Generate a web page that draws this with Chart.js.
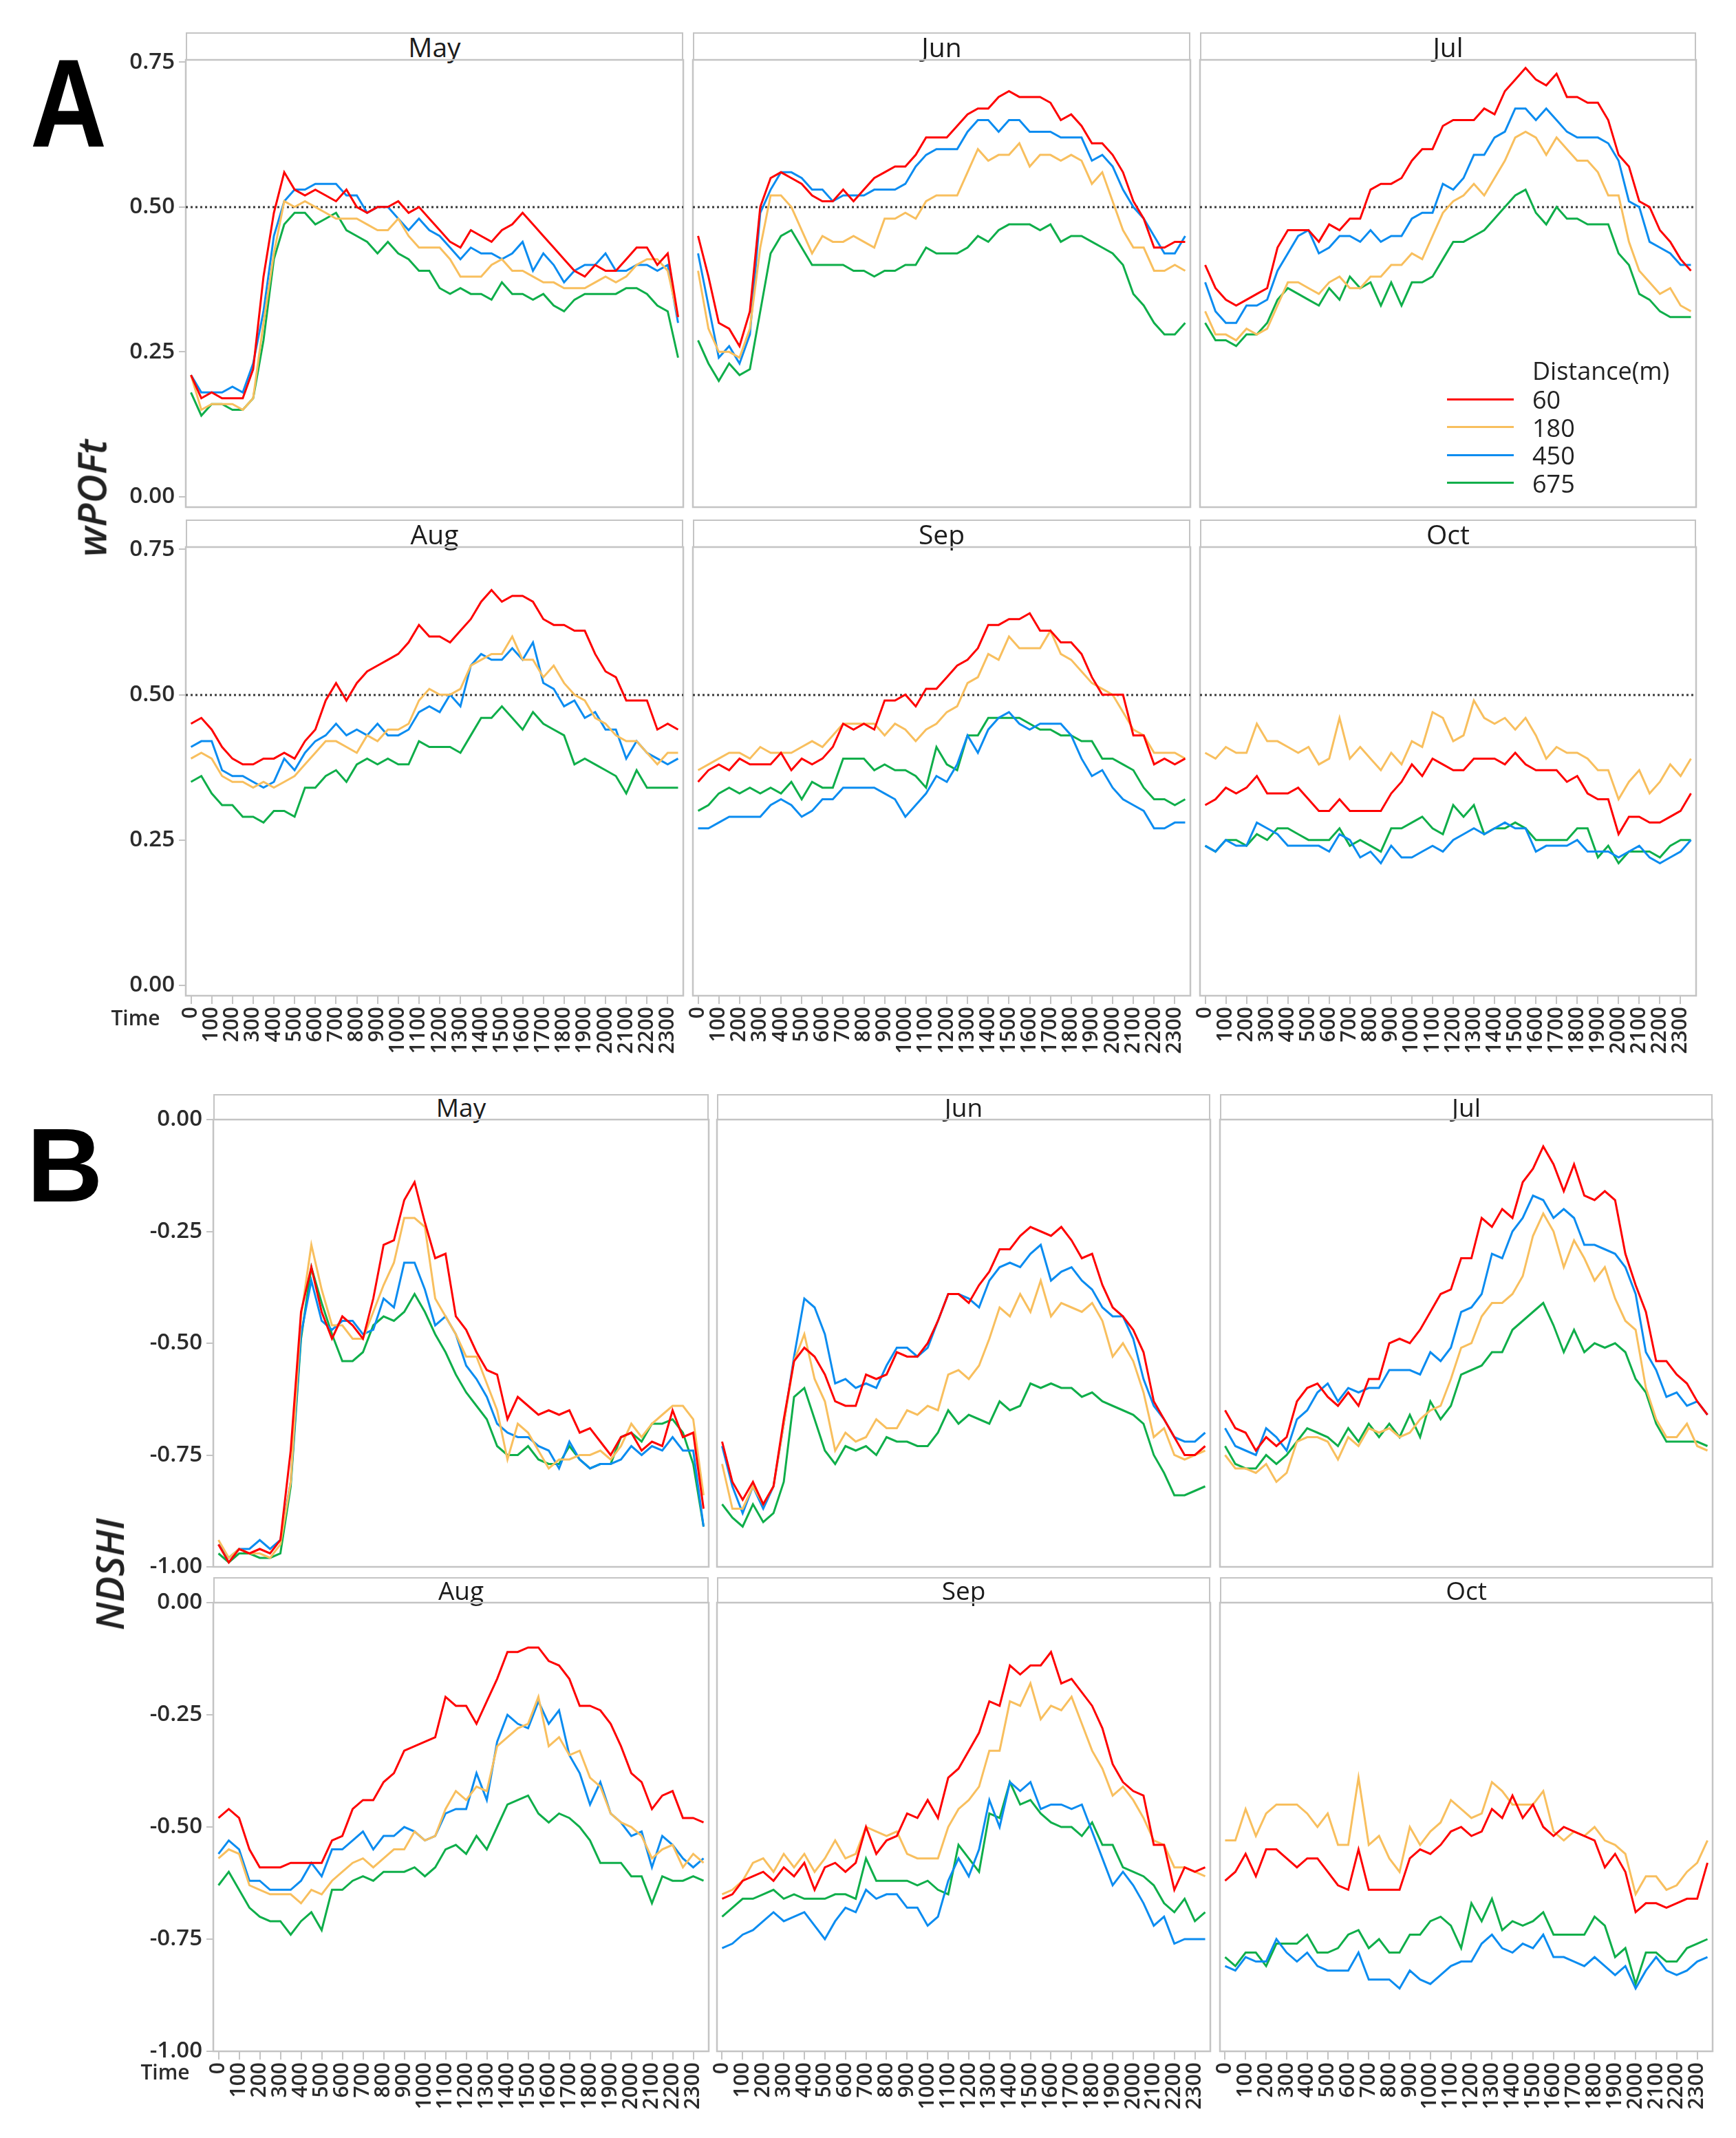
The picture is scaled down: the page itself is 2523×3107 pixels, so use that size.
<!DOCTYPE html>
<html>
<head>
<meta charset="utf-8">
<title>wPOFt / NDSHI diurnal profiles</title>
<script src="https://cdn.jsdelivr.net/npm/chart.js@4.4.1/dist/chart.umd.min.js"></script>
<style>
  html, body { margin: 0; padding: 0; background: #fff; }
  body { position: relative; width: 2523px; height: 3107px; overflow: hidden;
         font-family: "Open Sans", "Noto Sans", sans-serif; color: #262626; }
  canvas { position: absolute; }
  .strip { position: absolute; box-sizing: border-box; border: 2px solid #c4c4c4; background: #fff; }
  .strip span { position: absolute; left: 0; right: 0; text-align: center; line-height: 1; color: #1c1c1c; }
  .lbl { position: absolute; white-space: nowrap; line-height: 1; }
</style>
</head>
<body>
<script>
// half-hour slots of the day
const times = ['0','30','100','130','200','230','300','330','400','430','500','530',
  '600','630','700','730','800','830','900','930','1000','1030','1100','1130',
  '1200','1230','1300','1330','1400','1430','1500','1530','1600','1630','1700','1730',
  '1800','1830','1900','1930','2000','2030','2100','2130','2200','2230','2300','2330'];
const months = ['May', 'Jun', 'Jul', 'Aug', 'Sep', 'Oct'];
const distances = ['60', '180', '450', '675'];
const lineColors = ['#fe0000', '#f8bf5e', '#0b8cf0', '#0fae4a'];
const wTicks = [0, 0.25, 0.5, 0.75];
const nTicks = [-1, -0.75, -0.5, -0.25, 0];
const wThreshold = 0.5;

// ---------- wPOFt (A) ----------
const wMay60  = [0.21,0.17,0.18,0.17,0.17,0.17,0.22,0.38,0.49,0.56,0.53,0.52,0.53,0.52,0.51,0.53,0.50,0.49,0.50,0.50,0.51,0.49,0.50,0.48,0.46,0.44,0.43,0.46,0.45,0.44,0.46,0.47,0.49,0.47,0.45,0.43,0.41,0.39,0.38,0.40,0.39,0.39,0.41,0.43,0.43,0.40,0.42,0.31];
const wMay180 = [0.21,0.15,0.16,0.16,0.16,0.15,0.17,0.30,0.42,0.51,0.50,0.51,0.50,0.49,0.48,0.48,0.48,0.47,0.46,0.46,0.48,0.45,0.43,0.43,0.43,0.41,0.38,0.38,0.38,0.40,0.41,0.39,0.39,0.38,0.37,0.37,0.36,0.36,0.36,0.37,0.38,0.37,0.38,0.40,0.41,0.41,0.39,0.31];
const wMay450 = [0.21,0.18,0.18,0.18,0.19,0.18,0.23,0.32,0.45,0.51,0.53,0.53,0.54,0.54,0.54,0.52,0.52,0.49,0.50,0.50,0.48,0.46,0.48,0.46,0.45,0.43,0.41,0.43,0.42,0.42,0.41,0.42,0.44,0.39,0.42,0.40,0.37,0.39,0.40,0.40,0.42,0.39,0.39,0.40,0.40,0.39,0.40,0.30];
const wMay675 = [0.18,0.14,0.16,0.16,0.15,0.15,0.17,0.27,0.41,0.47,0.49,0.49,0.47,0.48,0.49,0.46,0.45,0.44,0.42,0.44,0.42,0.41,0.39,0.39,0.36,0.35,0.36,0.35,0.35,0.34,0.37,0.35,0.35,0.34,0.35,0.33,0.32,0.34,0.35,0.35,0.35,0.35,0.36,0.36,0.35,0.33,0.32,0.24];

const wJun60  = [0.45,0.38,0.30,0.29,0.26,0.32,0.50,0.55,0.56,0.55,0.54,0.52,0.51,0.51,0.53,0.51,0.53,0.55,0.56,0.57,0.57,0.59,0.62,0.62,0.62,0.64,0.66,0.67,0.67,0.69,0.70,0.69,0.69,0.69,0.68,0.65,0.66,0.64,0.61,0.61,0.59,0.56,0.51,0.48,0.43,0.43,0.44,0.44];
const wJun180 = [0.39,0.29,0.25,0.25,0.24,0.29,0.43,0.52,0.52,0.50,0.46,0.42,0.45,0.44,0.44,0.45,0.44,0.43,0.48,0.48,0.49,0.48,0.51,0.52,0.52,0.52,0.56,0.60,0.58,0.59,0.59,0.61,0.57,0.59,0.59,0.58,0.59,0.58,0.54,0.56,0.51,0.46,0.43,0.43,0.39,0.39,0.40,0.39];
const wJun450 = [0.42,0.33,0.24,0.26,0.23,0.28,0.49,0.53,0.56,0.56,0.55,0.53,0.53,0.51,0.52,0.52,0.52,0.53,0.53,0.53,0.54,0.57,0.59,0.60,0.60,0.60,0.63,0.65,0.65,0.63,0.65,0.65,0.63,0.63,0.63,0.62,0.62,0.62,0.58,0.59,0.57,0.53,0.50,0.48,0.45,0.42,0.42,0.45];
const wJun675 = [0.27,0.23,0.20,0.23,0.21,0.22,0.32,0.42,0.45,0.46,0.43,0.40,0.40,0.40,0.40,0.39,0.39,0.38,0.39,0.39,0.40,0.40,0.43,0.42,0.42,0.42,0.43,0.45,0.44,0.46,0.47,0.47,0.47,0.46,0.47,0.44,0.45,0.45,0.44,0.43,0.42,0.40,0.35,0.33,0.30,0.28,0.28,0.30];

const wJul60  = [0.40,0.36,0.34,0.33,0.34,0.35,0.36,0.43,0.46,0.46,0.46,0.44,0.47,0.46,0.48,0.48,0.53,0.54,0.54,0.55,0.58,0.60,0.60,0.64,0.65,0.65,0.65,0.67,0.66,0.70,0.72,0.74,0.72,0.71,0.73,0.69,0.69,0.68,0.68,0.65,0.59,0.57,0.51,0.50,0.46,0.44,0.41,0.39];
const wJul180 = [0.32,0.28,0.28,0.27,0.29,0.28,0.29,0.33,0.37,0.37,0.36,0.35,0.37,0.38,0.36,0.36,0.38,0.38,0.40,0.40,0.42,0.41,0.45,0.49,0.51,0.52,0.54,0.52,0.55,0.58,0.62,0.63,0.62,0.59,0.62,0.60,0.58,0.58,0.56,0.52,0.52,0.44,0.39,0.37,0.35,0.36,0.33,0.32];
const wJul450 = [0.37,0.32,0.30,0.30,0.33,0.33,0.34,0.39,0.42,0.45,0.46,0.42,0.43,0.45,0.45,0.44,0.46,0.44,0.45,0.45,0.48,0.49,0.49,0.54,0.53,0.55,0.59,0.59,0.62,0.63,0.67,0.67,0.65,0.67,0.65,0.63,0.62,0.62,0.62,0.61,0.58,0.51,0.50,0.44,0.43,0.42,0.40,0.40];
const wJul675 = [0.30,0.27,0.27,0.26,0.28,0.28,0.30,0.34,0.36,0.35,0.34,0.33,0.36,0.34,0.38,0.36,0.37,0.33,0.37,0.33,0.37,0.37,0.38,0.41,0.44,0.44,0.45,0.46,0.48,0.50,0.52,0.53,0.49,0.47,0.50,0.48,0.48,0.47,0.47,0.47,0.42,0.40,0.35,0.34,0.32,0.31,0.31,0.31];

const wAug60  = [0.45,0.46,0.44,0.41,0.39,0.38,0.38,0.39,0.39,0.40,0.39,0.42,0.44,0.49,0.52,0.49,0.52,0.54,0.55,0.56,0.57,0.59,0.62,0.60,0.60,0.59,0.61,0.63,0.66,0.68,0.66,0.67,0.67,0.66,0.63,0.62,0.62,0.61,0.61,0.57,0.54,0.53,0.49,0.49,0.49,0.44,0.45,0.44];
const wAug180 = [0.39,0.40,0.39,0.36,0.35,0.35,0.34,0.35,0.34,0.35,0.36,0.38,0.40,0.42,0.42,0.41,0.40,0.43,0.42,0.44,0.44,0.45,0.49,0.51,0.50,0.50,0.51,0.55,0.56,0.57,0.57,0.60,0.56,0.56,0.53,0.55,0.52,0.50,0.49,0.46,0.45,0.43,0.42,0.42,0.40,0.38,0.40,0.40];
const wAug450 = [0.41,0.42,0.42,0.37,0.36,0.36,0.35,0.34,0.35,0.39,0.37,0.40,0.42,0.43,0.45,0.43,0.44,0.43,0.45,0.43,0.43,0.44,0.47,0.48,0.47,0.50,0.48,0.55,0.57,0.56,0.56,0.58,0.56,0.59,0.52,0.51,0.48,0.49,0.46,0.47,0.44,0.44,0.39,0.42,0.40,0.39,0.38,0.39];
const wAug675 = [0.35,0.36,0.33,0.31,0.31,0.29,0.29,0.28,0.30,0.30,0.29,0.34,0.34,0.36,0.37,0.35,0.38,0.39,0.38,0.39,0.38,0.38,0.42,0.41,0.41,0.41,0.40,0.43,0.46,0.46,0.48,0.46,0.44,0.47,0.45,0.44,0.43,0.38,0.39,0.38,0.37,0.36,0.33,0.37,0.34,0.34,0.34,0.34];

const wSep60  = [0.35,0.37,0.38,0.37,0.39,0.38,0.38,0.38,0.40,0.37,0.39,0.38,0.39,0.41,0.45,0.44,0.45,0.44,0.49,0.49,0.50,0.48,0.51,0.51,0.53,0.55,0.56,0.58,0.62,0.62,0.63,0.63,0.64,0.61,0.61,0.59,0.59,0.57,0.53,0.50,0.50,0.50,0.43,0.43,0.38,0.39,0.38,0.39];
const wSep180 = [0.37,0.38,0.39,0.40,0.40,0.39,0.41,0.40,0.40,0.40,0.41,0.42,0.41,0.43,0.45,0.45,0.45,0.45,0.43,0.45,0.44,0.42,0.44,0.45,0.47,0.48,0.52,0.53,0.57,0.56,0.60,0.58,0.58,0.58,0.61,0.57,0.56,0.54,0.52,0.51,0.50,0.47,0.44,0.43,0.40,0.40,0.40,0.39];
const wSep450 = [0.27,0.27,0.28,0.29,0.29,0.29,0.29,0.31,0.32,0.31,0.29,0.30,0.32,0.32,0.34,0.34,0.34,0.34,0.33,0.32,0.29,0.31,0.33,0.36,0.35,0.38,0.43,0.40,0.44,0.46,0.47,0.45,0.44,0.45,0.45,0.45,0.43,0.39,0.36,0.37,0.34,0.32,0.31,0.30,0.27,0.27,0.28,0.28];
const wSep675 = [0.30,0.31,0.33,0.34,0.33,0.34,0.33,0.34,0.33,0.35,0.32,0.35,0.34,0.34,0.39,0.39,0.39,0.37,0.38,0.37,0.37,0.36,0.34,0.41,0.38,0.37,0.43,0.43,0.46,0.46,0.46,0.46,0.45,0.44,0.44,0.43,0.43,0.42,0.42,0.39,0.39,0.38,0.37,0.34,0.32,0.32,0.31,0.32];

const wOct60  = [0.31,0.32,0.34,0.33,0.34,0.36,0.33,0.33,0.33,0.34,0.32,0.30,0.30,0.32,0.30,0.30,0.30,0.30,0.33,0.35,0.38,0.36,0.39,0.38,0.37,0.37,0.39,0.39,0.39,0.38,0.40,0.38,0.37,0.37,0.37,0.35,0.36,0.33,0.32,0.32,0.26,0.29,0.29,0.28,0.28,0.29,0.30,0.33];
const wOct180 = [0.40,0.39,0.41,0.40,0.40,0.45,0.42,0.42,0.41,0.40,0.41,0.38,0.39,0.46,0.39,0.41,0.39,0.37,0.40,0.38,0.42,0.41,0.47,0.46,0.42,0.43,0.49,0.46,0.45,0.46,0.44,0.46,0.43,0.39,0.41,0.40,0.40,0.39,0.37,0.37,0.32,0.35,0.37,0.33,0.35,0.38,0.36,0.39];
const wOct450 = [0.24,0.23,0.25,0.24,0.24,0.28,0.27,0.26,0.24,0.24,0.24,0.24,0.23,0.26,0.25,0.22,0.23,0.21,0.24,0.22,0.22,0.23,0.24,0.23,0.25,0.26,0.27,0.26,0.27,0.28,0.27,0.27,0.23,0.24,0.24,0.24,0.25,0.23,0.23,0.23,0.22,0.23,0.24,0.22,0.21,0.22,0.23,0.25];
const wOct675 = [0.24,0.23,0.25,0.25,0.24,0.26,0.25,0.27,0.27,0.26,0.25,0.25,0.25,0.27,0.24,0.25,0.24,0.23,0.27,0.27,0.28,0.29,0.27,0.26,0.31,0.29,0.31,0.26,0.27,0.27,0.28,0.27,0.25,0.25,0.25,0.25,0.27,0.27,0.22,0.24,0.21,0.23,0.23,0.23,0.22,0.24,0.25,0.25];

// ---------- NDSHI (B) ----------
const nMay60  = [-0.95,-0.99,-0.96,-0.97,-0.96,-0.97,-0.94,-0.74,-0.43,-0.33,-0.43,-0.49,-0.44,-0.46,-0.49,-0.40,-0.28,-0.27,-0.18,-0.14,-0.23,-0.31,-0.30,-0.44,-0.47,-0.52,-0.56,-0.57,-0.67,-0.62,-0.64,-0.66,-0.65,-0.66,-0.65,-0.70,-0.69,-0.72,-0.75,-0.71,-0.70,-0.74,-0.72,-0.73,-0.65,-0.71,-0.70,-0.87];
const nMay180 = [-0.94,-0.98,-0.96,-0.97,-0.97,-0.98,-0.95,-0.81,-0.44,-0.28,-0.38,-0.46,-0.46,-0.49,-0.49,-0.43,-0.37,-0.32,-0.22,-0.22,-0.24,-0.40,-0.44,-0.48,-0.53,-0.53,-0.59,-0.65,-0.76,-0.68,-0.70,-0.74,-0.78,-0.76,-0.76,-0.75,-0.75,-0.74,-0.76,-0.73,-0.68,-0.71,-0.68,-0.66,-0.64,-0.64,-0.67,-0.84];
const nMay450 = [-0.95,-0.98,-0.96,-0.96,-0.94,-0.96,-0.94,-0.81,-0.48,-0.36,-0.45,-0.47,-0.45,-0.45,-0.48,-0.47,-0.40,-0.42,-0.32,-0.32,-0.38,-0.46,-0.44,-0.48,-0.55,-0.58,-0.62,-0.68,-0.70,-0.71,-0.71,-0.73,-0.74,-0.78,-0.72,-0.76,-0.78,-0.77,-0.77,-0.76,-0.73,-0.75,-0.73,-0.74,-0.71,-0.74,-0.74,-0.91];
const nMay675 = [-0.97,-0.99,-0.97,-0.97,-0.98,-0.98,-0.97,-0.82,-0.49,-0.33,-0.41,-0.48,-0.54,-0.54,-0.52,-0.46,-0.44,-0.45,-0.43,-0.39,-0.43,-0.48,-0.52,-0.57,-0.61,-0.64,-0.67,-0.73,-0.75,-0.75,-0.73,-0.76,-0.77,-0.77,-0.73,-0.76,-0.78,-0.77,-0.77,-0.71,-0.70,-0.72,-0.68,-0.68,-0.67,-0.70,-0.77,-0.91];

const nJun60  = [-0.72,-0.81,-0.85,-0.81,-0.86,-0.82,-0.67,-0.54,-0.51,-0.53,-0.57,-0.63,-0.64,-0.64,-0.57,-0.58,-0.57,-0.52,-0.53,-0.53,-0.50,-0.45,-0.39,-0.39,-0.41,-0.37,-0.34,-0.29,-0.29,-0.26,-0.24,-0.25,-0.26,-0.24,-0.27,-0.31,-0.30,-0.37,-0.42,-0.44,-0.47,-0.52,-0.63,-0.67,-0.71,-0.75,-0.75,-0.73];
const nJun180 = [-0.77,-0.87,-0.87,-0.82,-0.86,-0.82,-0.68,-0.54,-0.48,-0.58,-0.63,-0.74,-0.70,-0.72,-0.71,-0.67,-0.69,-0.69,-0.65,-0.66,-0.64,-0.65,-0.57,-0.56,-0.58,-0.55,-0.49,-0.42,-0.44,-0.39,-0.43,-0.36,-0.44,-0.41,-0.42,-0.43,-0.41,-0.45,-0.53,-0.50,-0.54,-0.61,-0.71,-0.69,-0.75,-0.76,-0.75,-0.74];
const nJun450 = [-0.73,-0.82,-0.88,-0.82,-0.87,-0.82,-0.68,-0.53,-0.40,-0.42,-0.48,-0.59,-0.58,-0.60,-0.59,-0.60,-0.55,-0.51,-0.51,-0.53,-0.51,-0.45,-0.39,-0.39,-0.40,-0.42,-0.36,-0.33,-0.32,-0.33,-0.30,-0.28,-0.36,-0.34,-0.33,-0.36,-0.38,-0.42,-0.44,-0.44,-0.49,-0.58,-0.64,-0.67,-0.71,-0.72,-0.72,-0.70];
const nJun675 = [-0.86,-0.89,-0.91,-0.86,-0.90,-0.88,-0.81,-0.62,-0.60,-0.67,-0.74,-0.77,-0.73,-0.74,-0.73,-0.75,-0.71,-0.72,-0.72,-0.73,-0.73,-0.70,-0.65,-0.68,-0.66,-0.67,-0.68,-0.63,-0.65,-0.64,-0.59,-0.60,-0.59,-0.60,-0.60,-0.62,-0.61,-0.63,-0.64,-0.65,-0.66,-0.68,-0.75,-0.79,-0.84,-0.84,-0.83,-0.82];

const nJul60  = [-0.65,-0.69,-0.70,-0.74,-0.71,-0.73,-0.71,-0.63,-0.60,-0.59,-0.62,-0.64,-0.61,-0.64,-0.58,-0.58,-0.50,-0.49,-0.50,-0.47,-0.43,-0.39,-0.38,-0.31,-0.31,-0.22,-0.24,-0.20,-0.22,-0.14,-0.11,-0.06,-0.10,-0.16,-0.10,-0.17,-0.18,-0.16,-0.18,-0.30,-0.37,-0.43,-0.54,-0.54,-0.57,-0.59,-0.63,-0.66];
const nJul180 = [-0.75,-0.78,-0.78,-0.79,-0.77,-0.81,-0.79,-0.72,-0.71,-0.71,-0.72,-0.76,-0.71,-0.73,-0.69,-0.70,-0.69,-0.71,-0.70,-0.67,-0.65,-0.64,-0.58,-0.51,-0.50,-0.44,-0.41,-0.41,-0.39,-0.35,-0.26,-0.21,-0.25,-0.33,-0.27,-0.31,-0.36,-0.33,-0.40,-0.45,-0.47,-0.60,-0.67,-0.71,-0.71,-0.68,-0.73,-0.74];
const nJul450 = [-0.69,-0.73,-0.74,-0.75,-0.69,-0.71,-0.74,-0.67,-0.65,-0.61,-0.59,-0.63,-0.60,-0.61,-0.60,-0.60,-0.56,-0.56,-0.56,-0.57,-0.52,-0.54,-0.51,-0.43,-0.42,-0.39,-0.30,-0.31,-0.25,-0.22,-0.17,-0.18,-0.22,-0.20,-0.22,-0.28,-0.28,-0.29,-0.30,-0.33,-0.39,-0.52,-0.56,-0.62,-0.61,-0.64,-0.63,-0.66];
const nJul675 = [-0.73,-0.77,-0.78,-0.78,-0.75,-0.77,-0.75,-0.72,-0.69,-0.70,-0.71,-0.73,-0.69,-0.72,-0.68,-0.71,-0.68,-0.71,-0.66,-0.71,-0.63,-0.67,-0.64,-0.57,-0.56,-0.55,-0.52,-0.52,-0.47,-0.45,-0.43,-0.41,-0.46,-0.52,-0.47,-0.52,-0.50,-0.51,-0.50,-0.52,-0.58,-0.61,-0.68,-0.72,-0.72,-0.72,-0.72,-0.73];

const nAug60  = [-0.48,-0.46,-0.48,-0.55,-0.59,-0.59,-0.59,-0.58,-0.58,-0.58,-0.58,-0.53,-0.52,-0.46,-0.44,-0.44,-0.40,-0.38,-0.33,-0.32,-0.31,-0.30,-0.21,-0.23,-0.23,-0.27,-0.22,-0.17,-0.11,-0.11,-0.10,-0.10,-0.13,-0.14,-0.17,-0.23,-0.23,-0.24,-0.27,-0.32,-0.38,-0.40,-0.46,-0.43,-0.42,-0.48,-0.48,-0.49];
const nAug180 = [-0.57,-0.55,-0.56,-0.63,-0.64,-0.65,-0.65,-0.65,-0.67,-0.64,-0.65,-0.62,-0.60,-0.58,-0.57,-0.59,-0.57,-0.55,-0.55,-0.51,-0.53,-0.52,-0.46,-0.42,-0.44,-0.41,-0.42,-0.32,-0.30,-0.28,-0.27,-0.21,-0.32,-0.30,-0.34,-0.33,-0.39,-0.41,-0.47,-0.49,-0.50,-0.52,-0.57,-0.55,-0.54,-0.59,-0.56,-0.58];
const nAug450 = [-0.56,-0.53,-0.55,-0.62,-0.62,-0.64,-0.64,-0.64,-0.62,-0.58,-0.61,-0.55,-0.55,-0.53,-0.51,-0.55,-0.52,-0.52,-0.50,-0.51,-0.53,-0.52,-0.47,-0.46,-0.46,-0.38,-0.44,-0.31,-0.25,-0.27,-0.28,-0.22,-0.27,-0.24,-0.34,-0.38,-0.45,-0.40,-0.47,-0.49,-0.52,-0.51,-0.59,-0.52,-0.54,-0.57,-0.59,-0.57];
const nAug675 = [-0.63,-0.60,-0.64,-0.68,-0.70,-0.71,-0.71,-0.74,-0.71,-0.69,-0.73,-0.64,-0.64,-0.62,-0.61,-0.62,-0.60,-0.60,-0.60,-0.59,-0.61,-0.59,-0.55,-0.54,-0.56,-0.52,-0.55,-0.50,-0.45,-0.44,-0.43,-0.47,-0.49,-0.47,-0.48,-0.50,-0.53,-0.58,-0.58,-0.58,-0.61,-0.61,-0.67,-0.61,-0.62,-0.62,-0.61,-0.62];

const nSep60  = [-0.66,-0.65,-0.62,-0.61,-0.60,-0.62,-0.59,-0.61,-0.58,-0.64,-0.59,-0.58,-0.60,-0.58,-0.50,-0.56,-0.53,-0.52,-0.47,-0.48,-0.44,-0.48,-0.39,-0.37,-0.33,-0.29,-0.22,-0.23,-0.14,-0.16,-0.14,-0.14,-0.11,-0.18,-0.17,-0.20,-0.23,-0.28,-0.36,-0.40,-0.42,-0.43,-0.54,-0.54,-0.64,-0.59,-0.60,-0.59];
const nSep180 = [-0.65,-0.64,-0.62,-0.58,-0.57,-0.60,-0.56,-0.59,-0.56,-0.60,-0.57,-0.53,-0.57,-0.56,-0.50,-0.51,-0.52,-0.51,-0.56,-0.57,-0.57,-0.57,-0.50,-0.46,-0.44,-0.41,-0.33,-0.33,-0.22,-0.23,-0.18,-0.26,-0.23,-0.24,-0.21,-0.27,-0.33,-0.37,-0.43,-0.41,-0.44,-0.48,-0.53,-0.54,-0.59,-0.59,-0.60,-0.61];
const nSep450 = [-0.77,-0.76,-0.74,-0.73,-0.71,-0.69,-0.71,-0.70,-0.69,-0.72,-0.75,-0.71,-0.68,-0.69,-0.64,-0.66,-0.65,-0.65,-0.68,-0.68,-0.72,-0.70,-0.62,-0.57,-0.61,-0.55,-0.44,-0.50,-0.40,-0.42,-0.40,-0.46,-0.45,-0.45,-0.46,-0.45,-0.51,-0.57,-0.63,-0.60,-0.63,-0.67,-0.72,-0.70,-0.76,-0.75,-0.75,-0.75];
const nSep675 = [-0.70,-0.68,-0.66,-0.66,-0.65,-0.64,-0.66,-0.65,-0.66,-0.66,-0.66,-0.65,-0.65,-0.66,-0.57,-0.62,-0.62,-0.62,-0.62,-0.63,-0.62,-0.64,-0.65,-0.54,-0.57,-0.60,-0.47,-0.48,-0.40,-0.45,-0.44,-0.47,-0.49,-0.50,-0.50,-0.52,-0.49,-0.54,-0.54,-0.59,-0.60,-0.61,-0.63,-0.67,-0.69,-0.66,-0.71,-0.69];

const nOct60  = [-0.62,-0.60,-0.56,-0.61,-0.55,-0.55,-0.57,-0.59,-0.57,-0.57,-0.60,-0.63,-0.64,-0.55,-0.64,-0.64,-0.64,-0.64,-0.57,-0.55,-0.56,-0.54,-0.51,-0.50,-0.52,-0.51,-0.46,-0.48,-0.43,-0.48,-0.45,-0.50,-0.52,-0.50,-0.51,-0.52,-0.53,-0.59,-0.56,-0.60,-0.69,-0.67,-0.67,-0.68,-0.67,-0.66,-0.66,-0.58];
const nOct180 = [-0.53,-0.53,-0.46,-0.52,-0.47,-0.45,-0.45,-0.45,-0.47,-0.50,-0.47,-0.54,-0.54,-0.39,-0.54,-0.52,-0.57,-0.60,-0.50,-0.54,-0.51,-0.49,-0.44,-0.46,-0.48,-0.47,-0.40,-0.42,-0.45,-0.45,-0.45,-0.42,-0.51,-0.53,-0.51,-0.52,-0.50,-0.53,-0.54,-0.56,-0.65,-0.61,-0.61,-0.64,-0.63,-0.60,-0.58,-0.53];
const nOct450 = [-0.81,-0.82,-0.79,-0.80,-0.80,-0.75,-0.78,-0.80,-0.78,-0.81,-0.82,-0.82,-0.82,-0.78,-0.84,-0.84,-0.84,-0.86,-0.82,-0.84,-0.85,-0.83,-0.81,-0.80,-0.80,-0.76,-0.74,-0.77,-0.78,-0.76,-0.77,-0.74,-0.79,-0.79,-0.80,-0.81,-0.79,-0.81,-0.83,-0.81,-0.86,-0.82,-0.79,-0.82,-0.83,-0.82,-0.80,-0.79];
const nOct675 = [-0.79,-0.81,-0.78,-0.78,-0.81,-0.76,-0.76,-0.76,-0.74,-0.78,-0.78,-0.77,-0.74,-0.73,-0.77,-0.75,-0.78,-0.78,-0.74,-0.74,-0.71,-0.70,-0.72,-0.77,-0.67,-0.71,-0.66,-0.73,-0.71,-0.72,-0.71,-0.69,-0.74,-0.74,-0.74,-0.74,-0.70,-0.72,-0.79,-0.77,-0.85,-0.78,-0.78,-0.80,-0.80,-0.77,-0.76,-0.75];

const wSeries = [
    [wMay60, wMay180, wMay450, wMay675],
    [wJun60, wJun180, wJun450, wJun675],
    [wJul60, wJul180, wJul450, wJul675],
    [wAug60, wAug180, wAug450, wAug675],
    [wSep60, wSep180, wSep450, wSep675],
    [wOct60, wOct180, wOct450, wOct675]
];
const nSeries = [
    [nMay60, nMay180, nMay450, nMay675],
    [nJun60, nJun180, nJun450, nJun675],
    [nJul60, nJul180, nJul450, nJul675],
    [nAug60, nAug180, nAug450, nAug675],
    [nSep60, nSep180, nSep450, nSep675],
    [nOct60, nOct180, nOct450, nOct675]
];

// -----------------------------
// LAYOUT
// -----------------------------
const FRAME = '#c4c4c4';
const INK = '#2b2b2b';
const FONT = '"Open Sans", "Noto Sans", sans-serif';
const PAD = 40;
const Y_AXIS_W = 112;
const X_AXIS_H = 96;

const sections = [
    {
        series: wSeries, ticks: wTicks, min: -0.018, max: 0.754, threshold: wThreshold,
        stripFont: 39, stripTextTop: -1,
        cols: [[270, 993], [1007, 1730], [1744, 2465]],
        rows: [{ strip: 47, top: 87, bottom: 737 }, { strip: 755, top: 795, bottom: 1447 }]
    },
    {
        series: nSeries, ticks: nTicks, min: -1, max: 0, threshold: null,
        stripFont: 37, stripTextTop: -2,
        cols: [[310, 1030], [1042, 1759], [1773, 2489]],
        rows: [{ strip: 1590, top: 1627, bottom: 2277 }, { strip: 2292, top: 2329, bottom: 2981 }]
    }
];

Chart.defaults.font.family = FONT;
Chart.defaults.color = INK;

// panel frame
const framePlugin = {
    id: 'frame',
    beforeDatasetsDraw(chart) {
        const { ctx, chartArea: a } = chart;
        ctx.save();
        ctx.strokeStyle = FRAME;
        ctx.lineWidth = 2.5;
        ctx.strokeRect(a.left, a.top, a.right - a.left, a.bottom - a.top);
        ctx.restore();
    }
};

// dotted reference line
const thresholdPlugin = {
    id: 'threshold',
    beforeDatasetsDraw(chart, args, opts) {
        if (opts.value === null || opts.value === undefined) return;
        const { ctx, chartArea: a } = chart;
        const y = Math.round(chart.scales.y.getPixelForValue(opts.value));
        ctx.save();
        ctx.strokeStyle = '#3a3a3a';
        ctx.lineWidth = 3;
        ctx.setLineDash([3, 4]);
        ctx.beginPath();
        ctx.moveTo(a.left, y);
        ctx.lineTo(a.right, y);
        ctx.stroke();
        ctx.restore();
    }
};

function addText(text, css) {
    const d = document.createElement('div');
    d.className = 'lbl';
    d.textContent = text;
    d.style.cssText += css;
    document.body.appendChild(d);
    return d;
}

function addPanel(sec, r, c) {
    const mi = r * 3 + c;
    const [x0, x1] = sec.cols[c];
    const row = sec.rows[r];
    const showY = c === 0;
    const showX = r === 1;
    const plotW = x1 - x0;
    const plotH = row.bottom - row.top;
    const yW = showY ? Y_AXIS_W : 0;
    const xH = showX ? X_AXIS_H : 0;

    // month strip
    const strip = document.createElement('div');
    strip.className = 'strip';
    strip.style.left = x0 + 'px';
    strip.style.top = row.strip + 'px';
    strip.style.width = plotW + 'px';
    strip.style.height = (row.top - row.strip + 1) + 'px';
    const sp = document.createElement('span');
    sp.textContent = months[mi];
    sp.style.top = sec.stripTextTop + 'px';
    sp.style.fontSize = sec.stripFont + 'px';
    strip.appendChild(sp);
    document.body.appendChild(strip);

    // chart canvas
    const cv = document.createElement('canvas');
    const W = plotW + yW + 2 * PAD;
    const H = plotH + xH + 2 * PAD;
    cv.width = W;
    cv.height = H;
    cv.style.left = (x0 - yW - PAD) + 'px';
    cv.style.top = (row.top - PAD) + 'px';
    cv.style.width = W + 'px';
    cv.style.height = H + 'px';
    document.body.appendChild(cv);

    new Chart(cv, {
        type: 'line',
        data: {
            labels: times,
            datasets: sec.series[mi].map((arr, k) => ({
                label: distances[k],
                data: arr,
                borderColor: lineColors[k],
                backgroundColor: lineColors[k],
                borderWidth: 3,
                pointRadius: 0,
                tension: 0,
                fill: false
            }))
        },
        options: {
            responsive: false,
            maintainAspectRatio: false,
            animation: false,
            devicePixelRatio: 1,
            events: [],
            layout: { padding: { left: PAD, right: PAD, top: PAD, bottom: PAD } },
            plugins: {
                legend: { display: false },
                tooltip: { enabled: false },
                threshold: { value: sec.threshold }
            },
            scales: {
                x: {
                    type: 'category',
                    offset: true,
                    display: showX,
                    afterFit: s => { s.height = xH; },
                    ticks: {
                        autoSkip: false,
                        maxRotation: 90,
                        minRotation: 90,
                        padding: 4,
                        color: INK,
                        font: { size: 30, weight: '600' },
                        callback: (v, i) => (i % 2 ? '' : times[i])
                    },
                    grid: {
                        drawOnChartArea: false,
                        drawTicks: true,
                        tickLength: 12,
                        lineWidth: 2,
                        color: ctx => (ctx.index % 2 ? 'rgba(0,0,0,0)' : FRAME)
                    },
                    border: { display: false }
                },
                y: {
                    display: showY,
                    min: sec.min,
                    max: sec.max,
                    afterBuildTicks: s => { s.ticks = sec.ticks.map(v => ({ value: v })); },
                    afterFit: s => { s.width = yW; },
                    ticks: {
                        padding: 6,
                        color: INK,
                        font: { size: 33, weight: '600' },
                        callback: v => Number(v).toFixed(2)
                    },
                    grid: {
                        drawOnChartArea: false,
                        drawTicks: true,
                        tickLength: 10,
                        lineWidth: 2,
                        color: FRAME
                    },
                    border: { display: false }
                }
            }
        },
        plugins: [framePlugin, thresholdPlugin]
    });
}

sections.forEach(sec => {
    for (let r = 0; r < 2; r++) {
        for (let c = 0; c < 3; c++) addPanel(sec, r, c);
    }
});

// -----------------------------
// PANEL LETTERS, AXIS TITLES
// -----------------------------
addText('A', 'left:44px;top:46px;font:bold 181px "Liberation Sans", Arial, sans-serif;color:#000;transform:scaleX(0.85);transform-origin:0 0;');
addText('B', 'left:39px;top:1605px;font:bold 153px "Liberation Sans", Arial, sans-serif;color:#000;');
addText('wPOFt', 'left:132px;top:724px;font:italic 600 58px ' + FONT + ';color:#222;transform:translate(-50%,-50%) rotate(-90deg);');
addText('NDSHI', 'left:158px;top:2288px;font:italic 600 56px ' + FONT + ';color:#222;transform:translate(-50%,-50%) rotate(-90deg);');
addText('Time', 'left:197px;top:1478px;font:600 30px ' + FONT + ';color:' + INK + ';transform:translate(-50%,-50%);');
addText('Time', 'left:240px;top:3010px;font:600 30px ' + FONT + ';color:' + INK + ';transform:translate(-50%,-50%);');

// -----------------------------
// LEGEND (inside Jul, section A)
// -----------------------------
addText('Distance(m)', 'left:2227px;top:538px;font:400 36px ' + FONT + ';color:#222;transform:translateY(-50%);');
distances.forEach((d, i) => {
    const y = 580 + i * 40.5;
    const ln = document.createElement('div');
    ln.style.cssText = `position:absolute;left:2103px;top:${y - 1.5}px;width:97px;height:3px;background:${lineColors[i]};`;
    document.body.appendChild(ln);
    addText(d, `left:2227px;top:${y}px;font:400 36px ${FONT};color:#222;transform:translateY(-50%);`);
});
</script>
</body>
</html>
